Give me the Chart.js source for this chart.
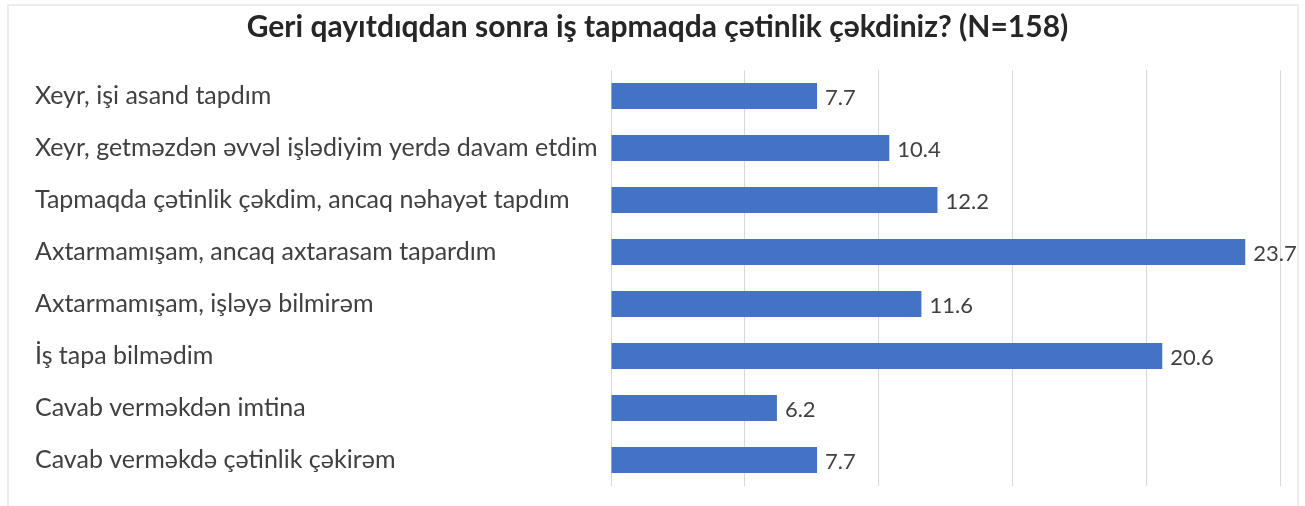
<!DOCTYPE html>
<html>
<head>
<meta charset="utf-8">
<script src="https://cdn.jsdelivr.net/npm/chart.js@4/dist/chart.umd.min.js"></script>
<style>
    html, body { margin: 0; padding: 0; background: #fff; }
    #wrap { position: relative; width: 1305px; height: 506px; }
    #frame {
        position: absolute; left: 7px; top: 4px; width: 1292px; height: 510px;
        border: 2px solid #ececec; box-sizing: border-box; pointer-events: none;
    }
</style>
</head>
<body>
<div id="wrap">
    <canvas id="chart" width="1305" height="506"></canvas>
    <div id="frame"></div>
</div>
<script>
// answer categories, top to bottom
const categories = [
    'Xeyr, işi asand tapdım',
    'Xeyr, getməzdən əvvəl işlədiyim yerdə davam etdim',
    'Tapmaqda çətinlik çəkdim, ancaq nəhayət tapdım',
    'Axtarmamışam, ancaq axtarasam tapardım',
    'Axtarmamışam, işləyə bilmirəm',
    'İş tapa bilmədim',
    'Cavab verməkdən imtina',
    'Cavab verməkdə çətinlik çəkirəm'
];
const shares = [7.7, 10.4, 12.2, 23.7, 11.6, 20.6, 6.2, 7.7];
const chartTitle = 'Geri qayıtdıqdan sonra iş tapmaqda çətinlik çəkdiniz? (N=158)';

const FONT = 'Lato, "Open Sans", sans-serif';

// writes the value just right of each bar
const valueLabels = {
    id: 'valueLabels',
    afterDatasetsDraw(chart) {
        const ctx = chart.ctx;
        const meta = chart.getDatasetMeta(0);
        ctx.save();
        ctx.font = '22px ' + FONT;
        ctx.fillStyle = '#404040';
        ctx.textAlign = 'left';
        ctx.textBaseline = 'middle';
        meta.data.forEach((bar, i) => {
            ctx.fillText(shares[i].toFixed(1), bar.x + 8, bar.y + 2);
        });
        ctx.restore();
    }
};

new Chart(document.getElementById('chart').getContext('2d'), {
    type: 'bar',
    data: {
        labels: categories,
        datasets: [{
            data: shares,
            backgroundColor: '#4472C4',
            borderWidth: 0,
            categoryPercentage: 1,
            barPercentage: 0.5
        }]
    },
    options: {
        indexAxis: 'y',
        responsive: false,
        animation: false,
        layout: { padding: { left: 35, right: 25, top: 0, bottom: 20 } },
        scales: {
            x: {
                min: 0,
                max: 25,
                ticks: { display: false, stepSize: 5 },
                grid: { color: '#d9d9d9', drawTicks: false, lineWidth: 1 },
                border: { display: false }
            },
            y: {
                ticks: {
                    crossAlign: 'far',
                    color: '#404040',
                    font: { family: FONT, size: 25 }
                },
                grid: { display: false },
                border: { display: false },
                afterFit: (scale) => { scale.width = 576; }
            }
        },
        plugins: {
            legend: { display: false },
            tooltip: { enabled: false },
            title: {
                display: true,
                text: chartTitle,
                color: '#262626',
                font: { family: FONT, size: 30, weight: 'bold' },
                padding: { top: 9, bottom: 25 }
            }
        }
    },
    plugins: [valueLabels]
});
</script>
</body>
</html>
